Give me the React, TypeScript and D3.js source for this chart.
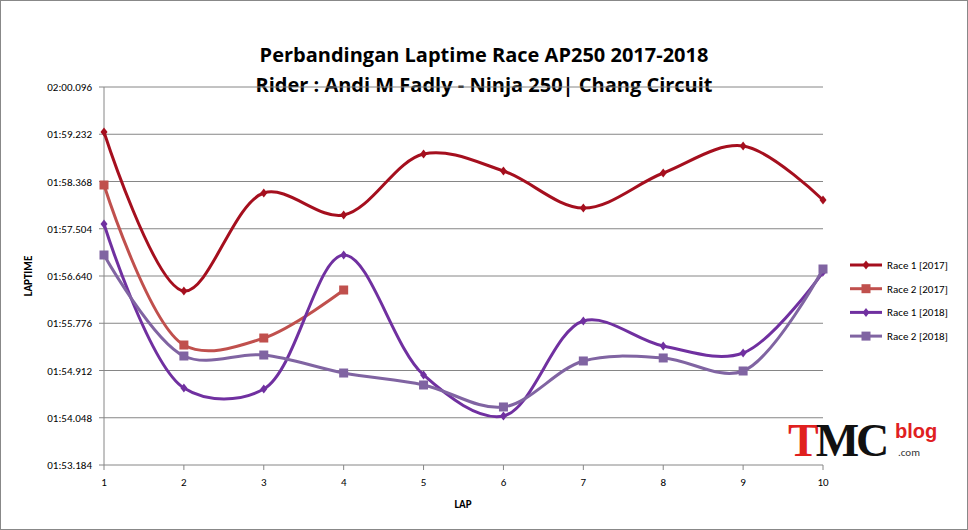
import React from 'react';
import * as d3 from 'd3';

const laps = [1, 2, 3, 4, 5, 6, 7, 8, 9, 10];
const race1_2017 = [119.273, 116.366, 118.158, 117.755, 118.871, 118.56, 117.883, 118.523, 119.017, 118.03];
const race2_2017 = [118.304, 115.378, 115.506, 116.384];
const race1_2018 = [117.591, 114.592, 114.574, 117.024, 114.83, 114.08, 115.817, 115.36, 115.232, 116.713];
const race2_2018 = [117.024, 115.177, 115.195, 114.866, 114.647, 114.245, 115.086, 115.141, 114.903, 116.768];
const yTicks = [113.184, 114.048, 114.912, 115.776, 116.64, 117.504, 118.368, 119.232, 120.096];

const series = [
  { name: 'Race 1 [2017]', values: race1_2017, color: '#A50F1E', marker: 'diamond' },
  { name: 'Race 2 [2017]', values: race2_2017, color: '#C0504D', marker: 'square' },
  { name: 'Race 1 [2018]', values: race1_2018, color: '#7030A0', marker: 'diamond' },
  { name: 'Race 2 [2018]', values: race2_2018, color: '#8064A2', marker: 'square' },
];

const fmt = (s: number) => {
  const m = Math.floor(s / 60);
  const r = s - m * 60;
  const ri = Math.floor(r + 1e-6);
  const ms = Math.round((r - ri) * 1000);
  return `${String(m).padStart(2, '0')}:${String(ri).padStart(2, '0')}.${String(ms).padStart(3, '0')}`;
};

export default function App() {
  const W = 968, H = 530;
  const x = d3.scaleLinear().domain([1, 10]).range([104, 823]);
  const y = d3.scaleLinear().domain([113.184, 120.096]).range([465, 87]);
  const line = d3.line<number>().x((_, i) => x(laps[i])).y(d => y(d)).curve(d3.curveCatmullRom.alpha(0.5));
  const font = 'Calibri, Carlito, "Liberation Sans", Arial, sans-serif';

  const marker = (kind: string, cx: number, cy: number, color: string, k: string) =>
    kind === 'diamond'
      ? <path key={k} d={`M${cx},${cy - 4.5}L${cx + 3.5},${cy}L${cx},${cy + 4.5}L${cx - 3.5},${cy}Z`} fill={color} />
      : <rect key={k} x={cx - 4.5} y={cy - 4.5} width={9} height={9} fill={color} />;

  return (
    <svg width={W} height={H} style={{ position: 'absolute', left: 0, top: 0 }} fontFamily={font}>
      <rect x={0.5} y={0.5} width={W - 1} height={H - 1} fill="#fff" stroke="#888" />
      <text x={484} y={62} textAnchor="middle" fontSize={20} fontWeight="bold" fontFamily="'Open Sans', sans-serif">Perbandingan Laptime  Race AP250 2017-2018</text>
      <text x={484} y={92} textAnchor="middle" fontSize={20} fontWeight="bold" fontFamily="'Open Sans', sans-serif">Rider : Andi M Fadly - Ninja 250|  Chang Circuit</text>
      {yTicks.map(t => (
        <g key={t}>
          <line x1={104} x2={823} y1={y(t)} y2={y(t)} stroke="#868686" />
          <line x1={99} x2={104} y1={y(t)} y2={y(t)} stroke="#868686" />
          <text x={92} y={y(t) + 4} textAnchor="end" fontSize={11}>{fmt(t)}</text>
        </g>
      ))}
      <line x1={104} x2={104} y1={87} y2={465} stroke="#868686" />
      {laps.map(l => (
        <g key={l}>
          <line x1={x(l)} x2={x(l)} y1={465} y2={470} stroke="#868686" />
          <text x={x(l)} y={486} textAnchor="middle" fontSize={11}>{l}</text>
        </g>
      ))}
      <text x={463} y={508} textAnchor="middle" fontSize={11} fontWeight="bold">LAP</text>
      <text transform="translate(32,276) rotate(-90)" textAnchor="middle" fontSize={11} fontWeight="bold">LAPTIME</text>
      {series.map(s => (
        <g key={s.name}>
          <path d={line(s.values) || ''} fill="none" stroke={s.color} strokeWidth={3} />
          {s.values.map((v, i) => marker(s.marker, x(laps[i]), y(v), s.color, s.name + i))}
        </g>
      ))}
      {series.map((s, i) => {
        const ly = 265 + i * 23.7;
        return (
          <g key={s.name}>
            <line x1={850} x2={882} y1={ly} y2={ly} stroke={s.color} strokeWidth={3} />
            {marker(s.marker, 866, ly, s.color, 'l' + i)}
            <text x={887} y={ly + 4} fontSize={11}>{s.name}</text>
          </g>
        );
      })}
      <text x={788} y={456} fontSize={46} fontWeight="bold" fontFamily="'Liberation Serif', serif" letterSpacing={-3}>
        <tspan fill="#E0201F">T</tspan><tspan fill="#111">MC</tspan>
      </text>
      <text x={895} y={438} fontSize={20} fontWeight="bold" fill="#E0201F" fontFamily="'Liberation Sans', sans-serif">blog</text>
      <text x={898} y={456} fontSize={11} fill="#333">.com</text>
    </svg>
  );
}
